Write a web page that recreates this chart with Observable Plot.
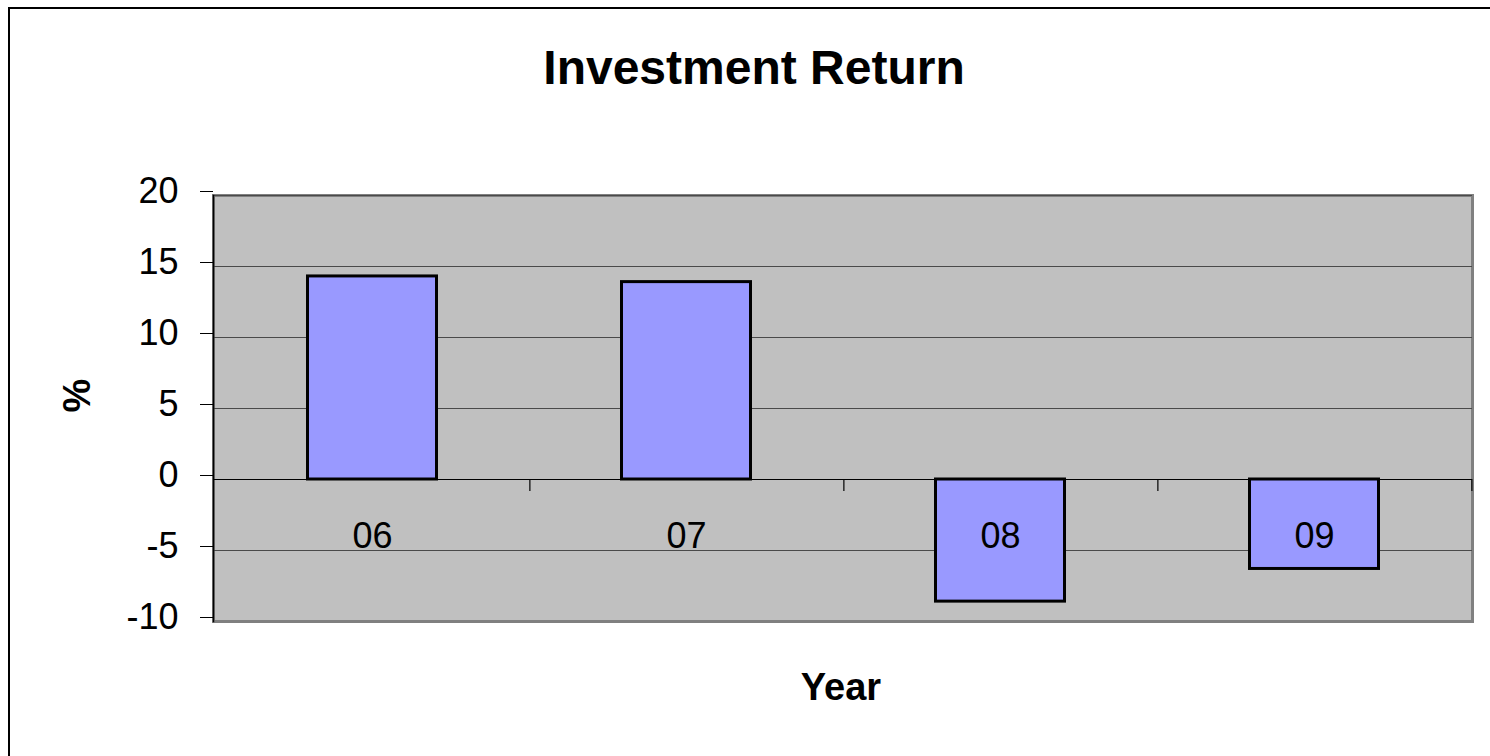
<!DOCTYPE html>
<html>
<head>
<meta charset="utf-8">
<script src="https://cdn.jsdelivr.net/npm/d3@7"></script>
<script src="https://cdn.jsdelivr.net/npm/@observablehq/plot@0.6"></script>
<style>
  html, body { margin: 0; padding: 0; background: #fff; overflow: hidden; }
  #wrap { position: relative; width: 1490px; height: 756px; }
  #border { position: absolute; left: 8px; top: 7px; width: 1600px; height: 900px;
            border-left: 2px solid #000; border-top: 2px solid #000; box-sizing: border-box; pointer-events: none; }
  svg { font-family: "Liberation Sans", Arial, sans-serif; }
</style>
</head>
<body>
<div id="wrap"><div id="chart"></div><div id="border"></div></div>
<script>
const years = ["06", "07", "08", "09"];
const returns = [14.3, 13.9, -8.6, -6.3];
const yTicks = [-10, -5, 0, 5, 10, 15, 20];
const gridValues = [-5, 5, 10, 15, 20];
const title = "Investment Return";
const xTitle = "Year";
const yTitle = "%";

const data = years.map((y, i) => ({year: y, value: returns[i]}));

const W = 1490, H = 756, ML = 213, MR = 18, MT = 195, MB = 135;
const padInner = 0.6, padOuter = 0.3;
const step = (W - ML - MR) / (years.length - padInner + 2 * padOuter);

const chart = Plot.plot({
  width: W,
  height: H,
  marginLeft: ML,
  marginRight: MR,
  marginTop: MT,
  marginBottom: MB,
  style: {fontFamily: "'Liberation Sans', Arial, sans-serif", background: "transparent"},
  x: {type: "band", domain: years, paddingInner: padInner, paddingOuter: padOuter, axis: null},
  y: {domain: [-10, 20], axis: null},
  marks: [
    Plot.frame({fill: "#c0c0c0", stroke: "#808080", strokeWidth: 3}),
    Plot.ruleY(gridValues, {stroke: "#4a4a4a", strokeWidth: 1.2}),
    Plot.ruleY([0], {stroke: "#000", strokeWidth: 1.2}),
    Plot.ruleX(years, {x: d => d, y1: 0, y2: 0, dx: step / 2, insetBottom: -12, stroke: "#000", strokeWidth: 1.2}),
    Plot.barY(data, {x: "year", y: "value", fill: "#9999ff", stroke: "#000", strokeWidth: 3, insetLeft: -1.5, insetRight: -1.5}),
    Plot.frame({anchor: "left", stroke: "#000", strokeWidth: 1.5}),
    Plot.axisY({ticks: yTicks, tickSize: 13, tickPadding: 22, fontSize: 36, label: null, dy: -4, tickFormat: d => String(d)}),
    Plot.text(data, {x: "year", y: 0, text: "year", dy: 57, fontSize: 36, lineAnchor: "middle", fill: "#000"}),
    Plot.text([title], {frameAnchor: "top", dx: -89, dy: -127, fontSize: 48, fontWeight: "bold", lineAnchor: "middle", fill: "#000"}),
    Plot.text([xTitle], {frameAnchor: "bottom", dx: -2, dy: 66, fontSize: 38, fontWeight: "bold", lineAnchor: "middle", fill: "#000"}),
    Plot.text([yTitle], {frameAnchor: "left", dx: -136, dy: 4, rotate: -90, fontSize: 38, fontWeight: "bold", lineAnchor: "middle", fill: "#000"})
  ]
});
document.getElementById("chart").appendChild(chart);
</script>
</body>
</html>
